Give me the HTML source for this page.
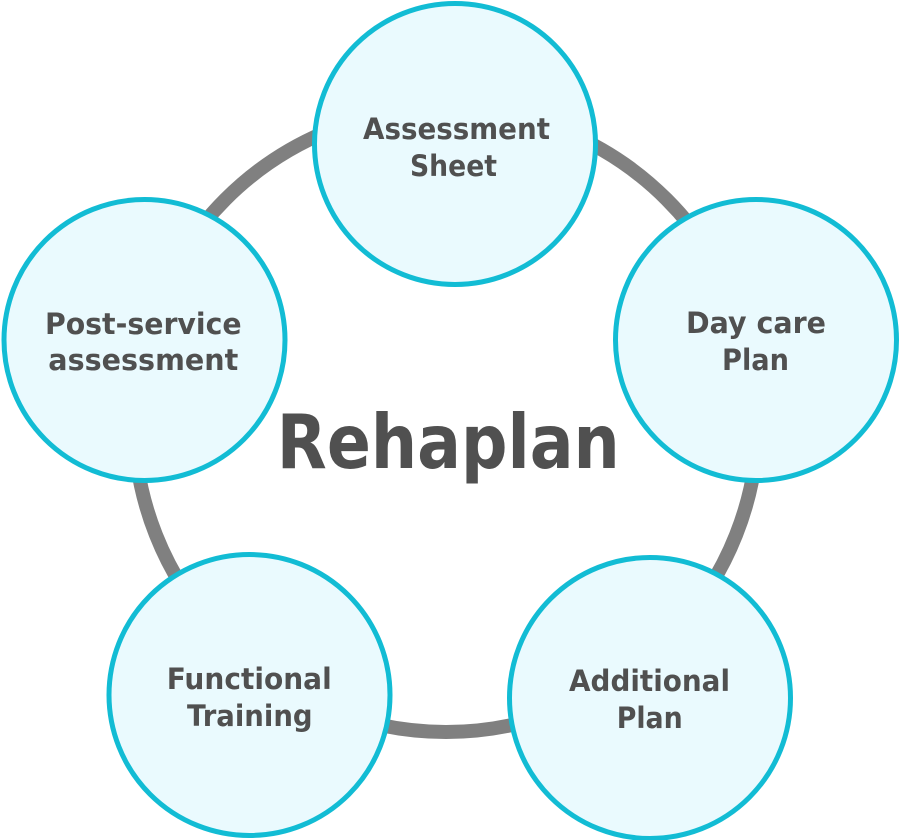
<!DOCTYPE html>
<html>
<head>
<meta charset="utf-8">
<style>
  html, body { margin: 0; padding: 0; background: #ffffff; }
  body { width: 900px; height: 840px; overflow: hidden; }
  svg { display: block; }
  .t { font-family: "DejaVu Sans", "Liberation Sans", sans-serif; font-weight: bold; fill: #505050; }
</style>
</head>
<body>
<svg width="900" height="840" viewBox="0 0 900 840" xmlns="http://www.w3.org/2000/svg">
  <!-- ring -->
  <circle cx="446" cy="420" r="312" fill="none" stroke="#808080" stroke-width="14"/>

  <!-- nodes -->
  <g fill="#eafafe" stroke="#12bcd4" stroke-width="5">
    <circle cx="455" cy="144" r="140.5"/>
    <circle cx="756" cy="340" r="140.5"/>
    <circle cx="650" cy="698" r="140.5"/>
    <circle cx="249.5" cy="695" r="140.5"/>
    <circle cx="144.5" cy="340" r="140.5"/>
  </g>

  <!-- labels -->
  <g class="t" font-size="29">
    <text x="456.5" y="139" text-anchor="middle" textLength="187" lengthAdjust="spacingAndGlyphs">Assessment</text>
    <text x="453.5" y="176" text-anchor="middle" textLength="87" lengthAdjust="spacingAndGlyphs">Sheet</text>

    <text x="756" y="333" text-anchor="middle" textLength="140" lengthAdjust="spacingAndGlyphs">Day care</text>
    <text x="755.5" y="370" text-anchor="middle" textLength="67" lengthAdjust="spacingAndGlyphs">Plan</text>

    <text x="649.5" y="691" text-anchor="middle" textLength="161" lengthAdjust="spacingAndGlyphs">Additional</text>
    <text x="649.7" y="728" text-anchor="middle" textLength="66" lengthAdjust="spacingAndGlyphs">Plan</text>

    <text x="249.2" y="689" text-anchor="middle" textLength="165" lengthAdjust="spacingAndGlyphs">Functional</text>
    <text x="249.8" y="726" text-anchor="middle" textLength="125.7" lengthAdjust="spacingAndGlyphs">Training</text>

    <text x="143.3" y="334" text-anchor="middle" textLength="196.7" lengthAdjust="spacingAndGlyphs">Post-service</text>
    <text x="143.3" y="370" text-anchor="middle" textLength="190" lengthAdjust="spacingAndGlyphs">assessment</text>
  </g>

  <text class="t" x="448.3" y="468" font-size="75" text-anchor="middle" textLength="343" lengthAdjust="spacingAndGlyphs">Rehaplan</text>
</svg>
</body>
</html>
